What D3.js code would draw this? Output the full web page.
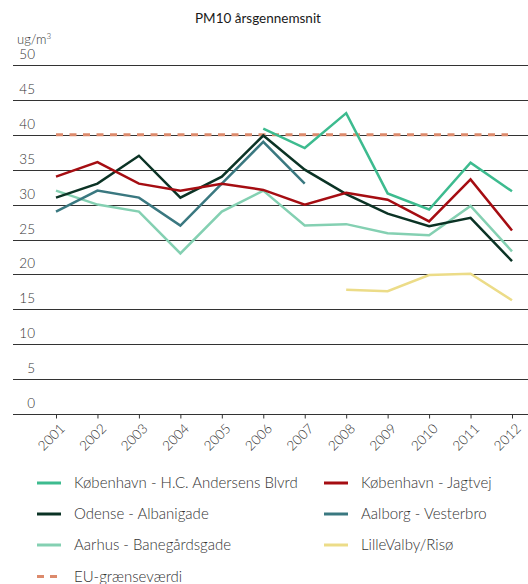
<!DOCTYPE html>
<html>
<head>
<meta charset="utf-8">
<script src="https://cdn.jsdelivr.net/npm/d3@7"></script>
<style>
  body { margin: 0; background: #fff; }
  svg { display: block; font-family: Lato, "Open Sans", sans-serif; }
</style>
</head>
<body>
<div id="chart"></div>
<script>
let years = [2001, 2002, 2003, 2004, 2005, 2006, 2007, 2008, 2009, 2010, 2011, 2012];
let yTicks = [0, 5, 10, 15, 20, 25, 30, 35, 40, 45, 50];

// null = ingen måling
let hcAndersen = [null, null, null, null, null, 40.9, 38.1, 43.1, 31.6, 29.3, 36.0, 31.9];
let jagtvej    = [34.0, 36.1, 33.0, 32.0, 33.0, 32.1, 30.0, 31.7, 30.7, 27.6, 33.6, 26.3];
let odense     = [31.0, 33.0, 37.0, 31.0, 34.0, 39.9, 35.0, 31.5, 28.7, 26.9, 28.1, 21.9];
let aalborg    = [29.0, 32.0, 31.0, 27.0, 33.0, 39.0, 33.0, null, null, null, null, null];
let aarhus     = [32.0, 30.0, 29.0, 23.0, 29.0, 32.0, 27.0, 27.2, 25.9, 25.6, 29.8, 23.3];
let lilleValby = [null, null, null, null, null, null, null, 17.8, 17.6, 19.9, 20.1, 16.3];
let euLimit = 40;

let series = [
    {name: "København - H.C. Andersens Blvrd", values: hcAndersen, color: "#3dbb8f"},
    {name: "København - Jagtvej", values: jagtvej, color: "#a50d12"},
    {name: "Odense - Albanigade", values: odense, color: "#0b3325"},
    {name: "Aalborg - Vesterbro", values: aalborg, color: "#3a7880"},
    {name: "Aarhus - Banegårdsgade", values: aarhus, color: "#84d0b2"},
    {name: "LilleValby/Risø", values: lilleValby, color: "#ecdc88"}
];
// tegnerækkefølge som i originalen
let drawOrder = [4, 3, 2, 1, 0, 5];

let width = 528, height = 584;

let svg = d3.select("#chart").append("svg")
    .attr("width", width)
    .attr("height", height);

let x = d3.scalePoint().domain(years).range([56, 512]);
let y = d3.scaleLinear().domain([0, 50]).range([414, 65]);

svg.append("text")
    .attr("x", 258).attr("y", 23)
    .attr("text-anchor", "middle")
    .style("font-size", "13.5px")
    .style("fill", "#1a1a1a")
    .text("PM10 årsgennemsnit");

let unit = svg.append("text")
    .attr("x", 17).attr("y", 44)
    .style("font-size", "13px")
    .style("font-weight", 300)
    .style("fill", "#333");
unit.append("tspan").text("ug/m");
unit.append("tspan").attr("dy", -5).style("font-size", "8px").text("3");

// gitterlinjer
svg.selectAll("line.grid")
    .data(yTicks)
    .enter()
    .append("line")
    .attr("class", "grid")
    .attr("x1", 13).attr("x2", width)
    .attr("y1", d => Math.round(y(d)) + 0.5)
    .attr("y2", d => Math.round(y(d)) + 0.5)
    .style("stroke", "#333")
    .style("stroke-width", 1.2);

svg.selectAll("text.ylab")
    .data(yTicks)
    .enter()
    .append("text")
    .attr("class", "ylab")
    .attr("x", 35)
    .attr("y", d => y(d) - 6)
    .attr("text-anchor", "end")
    .style("font-size", "13.5px")
    .style("font-weight", 300)
    .style("fill", "#333")
    .text(d => d);

// x-akse
let xAxis = svg.append("g")
    .attr("transform", "translate(0," + (Math.round(y(0)) + 0.5) + ")")
    .call(d3.axisBottom(x).tickSize(4).tickSizeOuter(0));
xAxis.select(".domain").remove();
xAxis.selectAll(".tick line").style("stroke", "#333");
xAxis.selectAll(".tick text")
    .attr("transform", "rotate(-45)")
    .attr("text-anchor", "end")
    .attr("dx", "-0.3em")
    .attr("dy", "0.75em")
    .style("font-family", "Lato, 'Open Sans', sans-serif")
    .style("font-size", "13.5px")
    .style("font-weight", 300)
    .style("fill", "#333");

// EU-grænseværdi
svg.append("line")
    .attr("x1", x(2001)).attr("x2", x(2012) - 4)
    .attr("y1", y(euLimit)).attr("y2", y(euLimit))
    .style("stroke", "#dc8a6c")
    .style("stroke-width", 3)
    .style("stroke-dasharray", "7,6.5");

let line = d3.line()
    .defined(d => d.v !== null)
    .x(d => x(d.year))
    .y(d => y(d.v));

drawOrder.forEach(i => {
    let s = series[i];
    svg.append("path")
        .datum(years.map((yr, j) => ({year: yr, v: s.values[j]})))
        .attr("d", line)
        .style("fill", "none")
        .style("stroke", s.color)
        .style("stroke-width", 2.5)
        .style("stroke-linejoin", "miter");
});

// legende
let legendItems = series.map(s => ({name: s.name, color: s.color, dash: null}));
legendItems.push({name: "EU-grænseværdi", color: "#dc8a6c", dash: "7,6"});
let rowY = [483, 514, 545, 576.5];

let legend = svg.selectAll("g.legend")
    .data(legendItems)
    .enter()
    .append("g")
    .attr("class", "legend")
    .attr("transform", (d, i) => {
        let col = i % 2, row = Math.floor(i / 2);
        return "translate(" + (col === 0 ? 37 : 324) + "," + rowY[row] + ")";
    });

legend.append("line")
    .attr("x1", 0).attr("x2", 24)
    .style("stroke", d => d.color)
    .style("stroke-width", 3)
    .style("stroke-dasharray", d => d.dash);

legend.append("text")
    .attr("x", 37)
    .attr("dy", "0.35em")
    .style("font-size", "15px")
    .style("font-weight", 300)
    .style("fill", "#333")
    .text(d => d.name);
</script>
</body>
</html>
